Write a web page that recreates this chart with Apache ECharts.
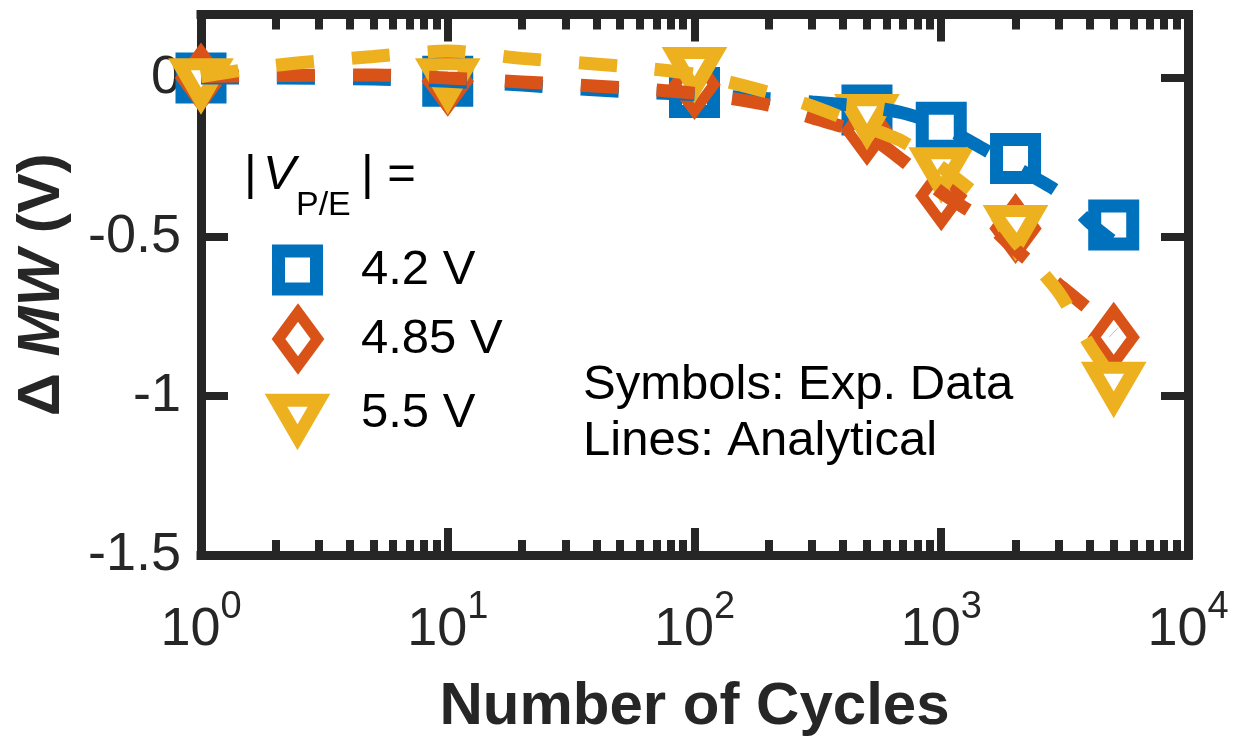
<!DOCTYPE html>
<html>
<head>
<meta charset="utf-8">
<script src="https://cdn.jsdelivr.net/npm/echarts@6/dist/echarts.min.js"></script>
<style>
html,body{margin:0;padding:0;background:#fff;}
#chart{width:1251px;height:753px;}
</style>
</head>
<body>
<div id="chart"></div>
<script>
// ---------- data ----------
var cyclesExp = [1, 10, 100, 500, 1000, 2000, 5000];
var expV42  = [0, -0.01, -0.045, -0.10, -0.155, -0.253, -0.462];
var expV485 = [0, -0.01, -0.02, -0.165, -0.37, -0.473, -0.815];
var expV55  = [0.005, 0.005, 0.04, -0.108, -0.275, -0.457, -0.95];

var cyclesFit = [1, 2, 5, 10, 20, 50, 100, 200, 300, 500, 700, 1000, 1500, 2000, 3000, 4000, 5000];
var fitV42  = [0, 0, -0.003, -0.01, -0.022, -0.042, -0.052, -0.065, -0.075, -0.09, -0.11, -0.15, -0.225, -0.28, -0.36, -0.455, -0.515];
var fitV485 = [0.005, 0.008, 0.01, 0, -0.012, -0.03, -0.048, -0.085, -0.125, -0.18, -0.26, -0.36, -0.45, -0.54, -0.65, -0.73, -0.80];
var fitV55  = [0.005, 0.04, 0.068, 0.085, 0.062, 0.038, 0.012, -0.045, -0.088, -0.155, -0.20, -0.28, -0.39, -0.515, -0.675, -0.84, -0.95];

var seriesNames = ['4.2 V', '4.85 V', '5.5 V'];
var yTickValues = [-1.5, -1, -0.5, 0];
var yTickLabels = ['-1.5', '-1', '-0.5', '0'];
var xMinorTicks = [2,3,4,5,6,7,8,9,20,30,40,50,60,70,80,90,200,300,400,500,600,700,800,900,2000,3000,4000,5000,6000,7000,8000,9000];

// ---------- style ----------
var C_BLUE = '#0072BD', C_ORANGE = '#D95319', C_YELLOW = '#EDB120', C_AX = '#262626';
var FONT = '"Liberation Sans", Arial, Helvetica, sans-serif';
var TRI = 'path://M0,0L2,0L1,1.732Z';

function pairs(xs, ys) { return xs.map(function (x, i) { return [x, ys[i]]; }); }

function fitLine(name, xs, ys, color) {
  return {
    type: 'line', name: name, data: pairs(xs, ys), showSymbol: false, symbol: 'none',
    smooth: 0.25, clip: false, silent: true,
    lineStyle: { color: color, width: 13, type: [38, 38], cap: 'butt' }
  };
}
function expSeries(name, ys, color, symbol, size, bw, offset) {
  return {
    type: 'scatter', name: name, data: pairs(cyclesExp, ys), symbol: symbol, symbolSize: size,
    symbolOffset: offset || [0, 0], clip: false, silent: true,
    itemStyle: { color: '#ffffff', borderColor: color, borderWidth: bw, borderJoin: 'miter', borderMiterLimit: 10, opacity: 1 }
  };
}

var axLine = { show: true, onZero: false, lineStyle: { color: C_AX, width: 9, cap: 'square' } };

function legendOne(name, icon, color, w, h, bw, left, top, padLeft, padBottom) {
  return {
    show: true, orient: 'vertical', left: left, top: top, padding: 0, itemGap: 0,
    itemWidth: w, itemHeight: h, symbolKeepAspect: false, selectedMode: false,
    data: [{ name: name, icon: icon,
      itemStyle: { color: '#ffffff', borderColor: color, borderWidth: bw, borderJoin: 'miter', borderMiterLimit: 10, opacity: 1 } }],
    formatter: '{t|{name}}',
    textStyle: {
      rich: { t: { fontFamily: FONT, fontSize: 49, color: '#000', lineHeight: 40, padding: [0, 0, padBottom || 0, padLeft] } }
    }
  };
}

var chart = echarts.init(document.getElementById('chart'), null, { renderer: 'canvas' });

var option = {
  animation: false,
  backgroundColor: '#ffffff',
  grid: { left: 201, right: 63, top: 14.5, bottom: 198, containLabel: false, outerBoundsMode: 'none' },
  xAxis: [
    { // main bottom axis
      type: 'log', logBase: 10, min: 1, max: 10000, position: 'bottom', gridIndex: 0,
      axisLine: axLine,
      axisTick: { show: true, inside: true, length: 27, lineStyle: { color: C_AX, width: 8 } },
      splitLine: { show: false }, minorTick: { show: false },
      axisLabel: {
        show: true, margin: 34, color: C_AX,
        formatter: function (v) { return '{b|10}{s|' + Math.round(Math.log10(v)) + '}'; },
        rich: {
          b: { fontFamily: FONT, fontSize: 54, lineHeight: 82, color: C_AX },
          s: { fontFamily: FONT, fontSize: 38, lineHeight: 10, verticalAlign: 'top', color: C_AX }
        }
      },
      name: 'Number of Cycles', nameLocation: 'middle', nameGap: 122,
      nameTextStyle: { fontFamily: FONT, fontSize: 60, fontWeight: 'bold', color: C_AX, lineHeight: 60 }
    },
    { // top box line
      type: 'log', logBase: 10, min: 1, max: 10000, position: 'top', gridIndex: 0,
      axisLine: axLine,
      axisTick: { show: true, inside: true, length: 27, lineStyle: { color: C_AX, width: 8 } },
      axisLabel: { show: false }, splitLine: { show: false }
    },
    { // bottom minor ticks
      type: 'log', logBase: 10, min: 1, max: 10000, position: 'bottom', gridIndex: 0,
      axisLine: { show: false, onZero: false },
      axisTick: { show: true, inside: true, length: 15, customValues: xMinorTicks, lineStyle: { color: C_AX, width: 8 } },
      axisLabel: { show: false }, splitLine: { show: false }
    },
    { // top minor ticks
      type: 'log', logBase: 10, min: 1, max: 10000, position: 'top', gridIndex: 0,
      axisLine: { show: false, onZero: false },
      axisTick: { show: true, inside: true, length: 15, customValues: xMinorTicks, lineStyle: { color: C_AX, width: 8 } },
      axisLabel: { show: false }, splitLine: { show: false }
    }
  ],
  yAxis: [
    {
      type: 'value', min: -1.5, max: 0.2, interval: 0.5, position: 'left',
      axisLine: axLine,
      axisTick: { show: true, inside: true, length: 27, customValues: yTickValues, lineStyle: { color: C_AX, width: 8 } },
      splitLine: { show: false },
      axisLabel: {
        show: true, customValues: yTickValues, margin: 20, color: C_AX, fontFamily: FONT, fontSize: 54,
        formatter: function (v) { var i = yTickValues.indexOf(v); return i >= 0 ? yTickLabels[i] : ''; }
      },
      name: '{d|Δ }{i|MW}{d| (V)}', nameLocation: 'middle', nameRotate: 90, nameGap: 129,
      nameTextStyle: {
        color: C_AX,
        rich: {
          d: { fontFamily: FONT, fontSize: 60, fontWeight: 'bold', color: C_AX },
          i: { fontFamily: FONT, fontSize: 60, fontWeight: 'bold', fontStyle: 'italic', color: C_AX }
        }
      }
    },
    {
      type: 'value', min: -1.5, max: 0.2, interval: 0.5, position: 'right',
      axisLine: axLine,
      axisTick: { show: true, inside: true, length: 27, customValues: yTickValues, lineStyle: { color: C_AX, width: 8 } },
      splitLine: { show: false }, axisLabel: { show: false }
    }
  ],
  legend: [
    legendOne(seriesNames[0], 'rect', C_BLUE, 38, 38, 13, 272, 244.5, 39.5, 0),
    legendOne(seriesNames[1], 'diamond', C_ORANGE, 39, 53, 11, 273, 307, 38.5, 0),
    legendOne(seriesNames[2], TRI, C_YELLOW, 43, 37, 13, 269.5, 389.2, 37, 10)
  ],
  graphic: [
    { type: 'text', x: 244, y: 175.5, silent: true, style: { text: '|', font: '49px ' + FONT, fill: '#000', verticalAlign: 'middle' } },
    { type: 'text', x: 263, y: 175.5, silent: true, style: { text: 'V', font: 'italic 49px ' + FONT, fill: '#000', verticalAlign: 'middle' } },
    { type: 'text', x: 296, y: 206, silent: true, style: { text: 'P/E', font: '34px ' + FONT, fill: '#000', verticalAlign: 'middle' } },
    { type: 'text', x: 361, y: 175.5, silent: true, style: { text: '| =', font: '49px ' + FONT, fill: '#000', verticalAlign: 'middle' } },
    { type: 'text', x: 583, y: 385, silent: true, style: { text: 'Symbols: Exp. Data', font: '49px ' + FONT, fill: '#000', verticalAlign: 'middle' } },
    { type: 'text', x: 583, y: 441, silent: true, style: { text: 'Lines: Analytical', font: '49px ' + FONT, fill: '#000', verticalAlign: 'middle' } }
  ],
  series: [
    fitLine('fit 4.2 V', cyclesFit, fitV42, C_BLUE),
    expSeries(seriesNames[0], expV42, C_BLUE, 'rect', 38, 13),
    fitLine('fit 4.85 V', cyclesFit, fitV485, C_ORANGE),
    expSeries(seriesNames[1], expV485, C_ORANGE, 'diamond', [39, 53], 11),
    fitLine('fit 5.5 V', cyclesFit, fitV55, C_YELLOW),
    expSeries(seriesNames[2], expV55, C_YELLOW, TRI, [43, 37], 13, [0, 6.2])
  ]
};
chart.setOption(option);
</script>
</body>
</html>
